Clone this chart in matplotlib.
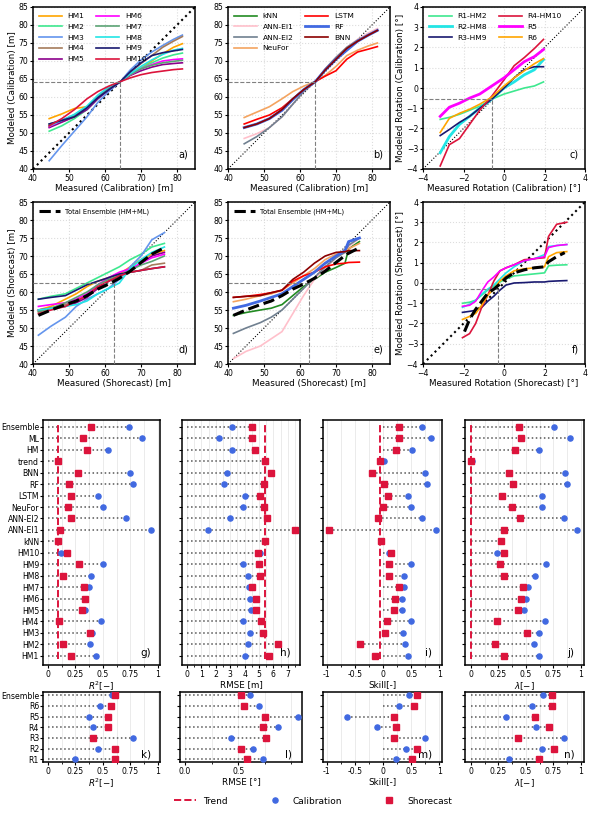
import numpy as np
import matplotlib
matplotlib.use('Agg')
import matplotlib.pyplot as plt
from matplotlib.lines import Line2D
from matplotlib.ticker import AutoMinorLocator

W, H = 591, 813

# ---- calibration / shorecast curves (sorted modeled vs sorted measured) ----
x_cal = [44.5, 48, 51.5, 55, 58, 61, 64.3, 67, 70, 73, 76, 79, 81.5]
hm_cal = {
    'HM1': [54, 55.3, 56.8, 57.3, 60, 62.5, 64.3, 66, 68, 70, 72, 73.8, 74.8],
    'HM2': [50.5, 52, 54, 56.5, 59.5, 62, 64.3, 66.3, 68, 69.5, 70.8, 71.7, 72.2],
    'HM3': [42.3, 46.5, 50.5, 54.5, 58.5, 61.5, 64.3, 67.5, 70.3, 72.5, 74.3, 76, 77.2],
    'HM4': [52, 53.2, 54.5, 57, 60, 62.5, 64.3, 66.8, 69.3, 71.5, 73.8, 75.5, 76.8],
    'HM5': [51.5, 53, 54.5, 56.5, 59.5, 62, 64.3, 66, 67.3, 68.3, 69, 69.3, 69.5],
    'HM6': [51.8, 53.5, 55, 57, 60, 62.5, 64.3, 66.2, 67.8, 69, 70, 70.4, 70.6],
    'HM7': [52.5, 53.5, 54.8, 57, 60, 62.3, 64.3, 66.2, 67.8, 68.8, 69.5, 69.9, 70.2],
    'HM8': [52, 53.5, 55.2, 57.5, 60.5, 62.8, 64.3, 66.5, 68.5, 70.3, 71.8, 73, 73.5],
    'HM9': [52.5, 53.5, 54.5, 57, 59.8, 62, 64.3, 67, 69.5, 71.5, 72.3, 72.8, 73.2],
    'HM10': [52, 54, 56.5, 59.5, 61.5, 63, 64.3, 65.3, 66.2, 66.8, 67.2, 67.6, 67.8],
}
ml_cal = {
    'kNN': [51.5, 52.5, 54, 56.5, 59.5, 62, 64.3, 67.5, 70.8, 73.5, 75.5, 77.2, 78.5],
    'ANN-EI1': [48.5, 49.8, 51.5, 54.5, 58, 61.5, 64.3, 67.8, 71, 73.8, 76, 77.8, 79],
    'ANN-EI2': [47, 49, 51.5, 54.5, 58, 61.5, 64.3, 67.8, 71, 73.8, 75.8, 77.3, 78.5],
    'NeuFor': [54.3, 55.8, 57.3, 59.5, 61.5, 63, 64.3, 66, 68.5, 71.5, 73, 74.2, 75],
    'LSTM': [52.5, 53.8, 55, 57, 59.5, 62, 64.3, 65.8, 67.3, 70.5, 72.5, 73.3, 74],
    'RF': [51.5, 52.5, 54, 56.3, 59.3, 62, 64.3, 67.5, 70.5, 73, 75.5, 77.2, 78.5],
    'BNN': [51.5, 52.5, 54, 56.5, 59.5, 62, 64.3, 67.5, 70.5, 73.5, 75.5, 77.2, 78.5],
}
x_rot_cal = [-3.15, -2.7, -2.2, -1.7, -1.2, -0.6, 0, 0.5, 1.0, 1.5, 1.95]
rot_cal = {
    'R1-HM2': [-1.55, -1.45, -1.3, -1.1, -0.9, -0.55, -0.3, -0.15, 0, 0.1, 0.3],
    'R2-HM8': [-3.2, -2.4, -1.8, -1.4, -1.0, -0.55, 0, 0.3, 0.65, 0.9, 1.4],
    'R3-HM9': [-2.35, -2.05, -1.7, -1.4, -1.0, -0.55, 0.0, 0.5, 0.9, 1.05, 1.05],
    'R4-HM10': [-3.85, -2.8, -2.5, -1.8, -1.1, -0.4, 0.4, 1.1, 1.5, 1.95, 2.4],
    'R5': [-1.4, -0.95, -0.75, -0.5, -0.3, 0.1, 0.5, 0.9, 1.3, 1.55, 1.9],
    'R6': [-2.2, -1.5, -1.25, -1.05, -0.8, -0.45, 0.1, 0.5, 0.85, 1.2, 1.45],
}

x_sho = [41.5, 45, 49, 52, 55, 58, 61, 64, 67, 70, 73, 76.5]
ens_sho = [53.5, 55, 56.5, 57.5, 59, 60.8, 62.2, 63.8, 65.8, 68.2, 70.5, 72.3]
hm_sho = {
    'HM1': [55, 56, 58, 59.5, 61.5, 63, 64, 65, 67, 69, 70.5, 71.5],
    'HM2': [58, 58.8, 59.5, 61, 62.5, 64, 65.5, 67, 69, 70.5, 72.5, 73.5],
    'HM3': [48, 50.5, 53, 56, 58, 59.5, 61, 63.5, 67, 70, 74.5, 76.5],
    'HM4': [54.5, 55.5, 56.5, 57.5, 59, 61, 63, 64.5, 65.5, 66, 67.5, 68],
    'HM5': [55, 55.5, 56, 57, 58.5, 61, 63, 64.5, 66, 68, 70, 71],
    'HM6': [56, 56.5, 57, 58, 59.5, 62, 64, 65.5, 66.5, 68, 69.5, 70.5],
    'HM7': [54.5, 55.5, 57, 58.5, 60, 62, 63.5, 64.5, 66, 67.5, 68.5, 70],
    'HM8': [55, 55.5, 56, 56.5, 57.5, 59.5, 61, 62.5, 66.5, 69, 71, 72.5],
    'HM9': [58, 58.5, 59, 60.5, 62, 63, 64, 65, 65.5, 66, 66.5, 67],
    'HM10': [54, 55, 56, 57.5, 59, 61.5, 63, 64.5, 65.5, 66, 66.5, 67],
}
x_sho_ml = [41.5, 45, 49, 52, 55, 58, 61, 64, 67, 70, 72.5, 73.5, 76.5]
ml_sho = {
    'kNN': [53.5, 54.3, 55, 55.5, 56.5, 59, 61.5, 63.5, 65.5, 66.8, 68, 72, 74],
    'ANN-EI1': [41.5, 43.5, 45, 47, 49, 54, 59, 63.5, 66.5, 69.5, 71.5, 72.5, 75],
    'ANN-EI2': [48.5, 50, 51.5, 53, 55, 58, 61, 64, 67, 69.5, 71, 73, 75],
    'NeuFor': [57.3, 58, 59, 59.5, 60.5, 62.5, 64.5, 66.5, 69, 70.5, 71.5, 72, 73.5],
    'LSTM': [58.5, 58.8, 59.3, 59.8, 60.5, 63, 64.5, 65.5, 67, 67.8, 68, 68.2, 68.3],
    'RF': [55.5, 56.3, 57.5, 58.5, 59.5, 61.5, 63.5, 65.5, 68, 70, 71.5, 74, 75],
    'BNN': [58.5, 58.8, 59, 59.8, 60.5, 63.5, 65.5, 68, 70, 71, 71.2, 71.5, 71.5],
}
x_rot_sho = [-2.05, -1.7, -1.4, -1.1, -0.8, -0.5, -0.2, 0.1, 0.5, 1.0, 1.5, 2.0, 2.2, 2.6, 3.1]
rot_sho = {
    'R1-HM2': [-1.0, -0.95, -0.85, -0.6, -0.35, -0.15, 0.05, 0.2, 0.35, 0.4, 0.45, 0.5, 0.85, 0.88, 0.9],
    'R2-HM8': [-1.2, -1.05, -0.85, -0.55, -0.3, -0.1, 0.2, 0.5, 0.8, 1.1, 1.2, 1.4, 1.8, 1.85, 1.9],
    'R3-HM9': [-1.45, -1.4, -1.35, -1.2, -0.9, -0.65, -0.35, -0.1, 0, 0.02, 0.05, 0.05, 0.08, 0.1, 0.12],
    'R4-HM10': [-2.7, -2.5, -2.0, -1.2, -0.6, 0.1, 0.6, 0.75, 0.9, 1.15, 1.2, 1.25, 2.3, 2.9, 3.0],
    'R5': [-1.15, -1.1, -0.9, -0.4, 0.05, 0.3, 0.6, 0.75, 0.9, 1.1, 1.2, 1.3, 1.75, 1.85, 1.9],
    'R6': [-1.8, -1.65, -1.5, -1.1, -0.6, -0.3, 0.1, 0.35, 0.6, 0.7, 0.75, 0.8, 1.3, 1.5, 1.55],
}
x_rot_ens = [-1.95, -1.7, -1.4, -1.1, -0.8, -0.5, -0.2, 0.1, 0.5, 1.0, 1.5, 2.0, 2.2, 2.6, 3.0]
rot_ens = [-2.4, -1.8, -1.3, -0.9, -0.5, -0.3, -0.05, 0.25, 0.5, 0.65, 0.75, 0.8, 1.05, 1.3, 1.5]

hm_colors = ['orange', '#3ee88f', 'cornflowerblue', '#a67b5b', 'darkmagenta',
             'magenta', '#5ba374', '#22e5e5', '#191970', 'crimson']
ml_colors = ['forestgreen', 'pink', 'slategrey', 'sandybrown', 'red', 'royalblue', 'darkred']
ml_lw = [1.2, 1.2, 1.2, 1.2, 1.2, 2.0, 1.2]
rot_colors = ['#3ee88f', '#22e5e5', '#191970', 'crimson', 'magenta', 'orange']
rot_lw = [1.2, 2.0, 1.2, 1.2, 2.0, 1.2]

# ---- metrics ----
models = ['HM1', 'HM2', 'HM3', 'HM4', 'HM5', 'HM6', 'HM7', 'HM8', 'HM9', 'HM10',
          'kNN', 'ANN-EI1', 'ANN-EI2', 'NeuFor', 'LSTM', 'RF', 'BNN',
          'trend', 'HM', 'ML', 'Ensemble']
r2_cal = [0.44, 0.385, 0.405, 0.48, 0.335, 0.34, 0.37, 0.39, 0.50, 0.12,
          0.09, 0.94, 0.715, 0.50, 0.46, 0.775, 0.745, 0.09, 0.55, 0.86, 0.74]
r2_sho = [0.21, 0.14, 0.385, 0.10, 0.31, 0.34, 0.33, 0.14, 0.28, 0.17,
          0.095, 0.11, 0.21, 0.18, 0.21, 0.19, 0.27, 0.09, 0.355, 0.32, 0.39]
rmse_cal = [4.06, 4.25, 4.41, 3.9, 4.45, 4.41, 4.34, 4.25, 3.87, 5.1,
            5.4, 1.44, 3.02, 3.87, 4.06, 2.6, 2.78, 5.4, 3.13, 2.2, 3.09]
rmse_sho = [5.73, 6.31, 5.29, 5.15, 4.8, 4.76, 4.52, 5.06, 5.03, 4.92,
            5.45, 7.47, 5.57, 5.38, 5.1, 5.34, 5.8, 5.45, 4.71, 4.52, 4.52]
skill_cal = [0.44, 0.39, 0.35, 0.5, 0.33, 0.34, 0.37, 0.38, 0.5, 0.1,
             -0.03, 0.94, 0.70, 0.5, 0.44, 0.78, 0.75, 0.02, 0.52, 0.85, 0.69]
skill_sho = [-0.14, -0.41, 0.03, 0.07, 0.20, 0.22, 0.28, 0.10, 0.11, 0.15,
             -0.03, -0.96, -0.09, -0.01, 0.09, 0.01, -0.19, -0.05, 0.23, 0.29, 0.29]
lam_cal = [0.62, 0.57, 0.62, 0.67, 0.48, 0.50, 0.52, 0.58, 0.68, 0.235,
           0.27, 0.97, 0.85, 0.65, 0.65, 0.876, 0.855, 0.01, 0.62, 0.90, 0.76]
lam_sho = [0.30, 0.22, 0.51, 0.235, 0.43, 0.46, 0.47, 0.30, 0.26, 0.305,
           0.27, 0.30, 0.45, 0.37, 0.28, 0.38, 0.35, 0.0, 0.40, 0.46, 0.44]
trend_vals = [0.09, 5.45, -0.05, 0.0]

rot_models = ['R1', 'R2', 'R3', 'R4', 'R5', 'R6', 'Ensemble']
rot_r2_cal = [0.246, 0.453, 0.778, 0.414, 0.376, 0.476, 0.58]
rot_r2_sho = [0.615, 0.615, 0.414, 0.547, 0.547, 0.577, 0.615]
rot_rmse_cal = [0.735, 0.635, 0.43, 0.87, 1.06, 0.70, 0.61]
rot_rmse_sho = [0.58, 0.526, 0.76, 0.73, 0.75, 0.555, 0.526]
rot_skill_cal = [0.23, 0.41, 0.75, -0.10, -0.64, 0.28, 0.46]
rot_skill_sho = [0.51, 0.60, 0.19, 0.23, 0.20, 0.56, 0.61]
rot_lam_cal = [0.35, 0.65, 0.85, 0.59, 0.32, 0.56, 0.66]
rot_lam_sho = [0.62, 0.76, 0.43, 0.71, 0.58, 0.74, 0.74]

BLUE = '#4169e1'
RED = '#dc143c'
LABEL_FS = 6.3
TICK_FS = 5.6

plt.rcParams['font.size'] = 6
plt.rcParams['axes.linewidth'] = 1.1


def rect(l, r, t, b):
    return [l / W, 1 - b / H, (r - l) / W, (b - t) / H]


fig = plt.figure(figsize=(W / 100, H / 100), dpi=100)


def scatter_panel(ax, xlim, ylim, xt, yt, xlabel, ylabel, tag, mx, my, diag_lw=1.2):
    ax.set_xlim(xlim)
    ax.set_ylim(ylim)
    ax.set_xticks(xt)
    ax.set_yticks(yt)
    ax.grid(True, color='#dddddd', linestyle=':', linewidth=0.8)
    ax.set_axisbelow(True)
    ax.plot(xlim, ylim, ':', color='k', lw=diag_lw, zorder=1)
    ax.plot([mx, mx], [ylim[0], my], '--', color='grey', lw=0.8, zorder=5)
    ax.plot([xlim[0], mx], [my, my], '--', color='grey', lw=0.8, zorder=5)
    ax.set_xlabel(xlabel, fontsize=LABEL_FS, labelpad=1)
    if ylabel:
        ax.set_ylabel(ylabel, fontsize=LABEL_FS, labelpad=1)
    ax.tick_params(labelsize=TICK_FS, length=2, pad=1.5)
    ax.text(0.96, 0.06, tag, transform=ax.transAxes, ha='right', va='bottom', fontsize=7)


dist_t = [40, 50, 60, 70, 80]
dist_y = list(range(40, 86, 5))
rot_t = [-4, -2, 0, 2, 4]
rot_y = list(range(-4, 5))
leg_kw = dict(loc='upper left', ncol=2, fontsize=5.4, frameon=False, handlelength=3.0,
              labelspacing=0.6, columnspacing=1.6, borderaxespad=0.4)

# a)
ax = fig.add_axes(rect(33, 195, 7, 169))
for (name, vals), c in zip(hm_cal.items(), hm_colors):
    ax.plot(x_cal, vals, color=c, lw=1.2, label=name)
scatter_panel(ax, (40, 85), (40, 85), dist_t, dist_y, 'Measured (Calibration) [m]',
              'Modeled (Calibration) [m]', 'a)', 64.3, 64.3, 1.5)
ax.legend(**leg_kw)

# b)
ax = fig.add_axes(rect(228, 390, 7, 169))
for (name, vals), c, lw in zip(ml_cal.items(), ml_colors, ml_lw):
    ax.plot(x_cal, vals, color=c, lw=lw, label=name)
scatter_panel(ax, (40, 85), (40, 85), dist_t, dist_y, 'Measured (Calibration) [m]',
              None, 'b)', 64.3, 64.3, 0.8)
ax.legend(**leg_kw)

# c)
ax = fig.add_axes(rect(423, 585, 7, 169))
for (name, vals), c, lw in zip(rot_cal.items(), rot_colors, rot_lw):
    ax.plot(x_rot_cal, vals, color=c, lw=lw, label=name)
scatter_panel(ax, (-4, 4), (-4, 4), rot_t, rot_y, 'Measured Rotation (Calibration) [°]',
              'Modeled Rotation (Calibration) [°]', 'c)', -0.6, -0.55, 0.8)
ax.legend(**leg_kw)

# d)
ax = fig.add_axes(rect(33, 195, 202, 364))
for (name, vals), c in zip(hm_sho.items(), hm_colors):
    ax.plot(x_sho, vals, color=c, lw=1.2)
ax.plot(x_sho, ens_sho, '--', color='k', lw=2.2, label='Total Ensemble (HM+ML)', zorder=6)
scatter_panel(ax, (40, 85), (40, 85), dist_t, dist_y, 'Measured (Shorecast) [m]',
              'Modeled (Shorecast) [m]', 'd)', 62.6, 62.6, 0.8)
ax.legend(loc='upper left', fontsize=4.9, frameon=False, handlelength=3.0, borderaxespad=0.5)

# e)
ax = fig.add_axes(rect(228, 390, 202, 364))
for (name, vals), c, lw in zip(ml_sho.items(), ml_colors, ml_lw):
    ax.plot(x_sho_ml, vals, color=c, lw=lw)
ax.plot(x_sho, ens_sho, '--', color='k', lw=2.2, label='Total Ensemble (HM+ML)', zorder=6)
scatter_panel(ax, (40, 85), (40, 85), dist_t, dist_y, 'Measured (Shorecast) [m]',
              None, 'e)', 62.6, 62.6, 0.8)
ax.legend(loc='upper left', fontsize=4.9, frameon=False, handlelength=3.0, borderaxespad=0.5)

# f)
ax = fig.add_axes(rect(423, 585, 202, 364))
for (name, vals), c in zip(rot_sho.items(), rot_colors):
    ax.plot(x_rot_sho, vals, color=c, lw=1.2)
ax.plot(x_rot_ens, rot_ens, '--', color='k', lw=2.2, zorder=6)
scatter_panel(ax, (-4, 4), (-4, 4), rot_t, rot_y, 'Measured Rotation (Shorecast) [°]',
              'Modeled Rotation (Shorecast) [°]', 'f)', -0.3, -0.3, 1.5)


def metric_panel(ax, names, cal, sho, xlim, xt, xtl, xlabel, tag, ylim, trend=None, show_names=False):
    y = np.arange(len(names))
    for yi, c, s in zip(y, cal, sho):
        ax.plot([min(0, c, s), max(c, s)], [yi, yi], ':', color='#555555', lw=1.1, zorder=1)
    if trend is not None:
        ax.plot([trend, trend], [-0.3, len(names) - 0.7], '--', color=RED, lw=1.4, zorder=2)
    ax.plot(cal, y, 'o', color=BLUE, ms=3.7, zorder=3, ls='none')
    ax.plot(sho, y, 's', color=RED, ms=4.2, zorder=4, ls='none')
    ax.set_xlim(xlim)
    ax.set_ylim(ylim)
    ax.set_xticks(xt)
    ax.set_xticklabels(xtl)
    ax.xaxis.set_minor_locator(AutoMinorLocator(2))
    ax.set_yticks(y)
    if show_names:
        ax.set_yticklabels(names, fontsize=5.0)
    else:
        ax.set_yticklabels([])
    ax.grid(True, which='both', axis='x', color='#e8e8e8', lw=0.6)
    ax.set_axisbelow(True)
    ax.set_xlabel(xlabel, fontsize=LABEL_FS, labelpad=1)
    ax.tick_params(labelsize=TICK_FS, length=2, pad=1.5)
    ax.tick_params(axis='y', pad=0.8)
    ax.tick_params(which='minor', length=1.5)
    ax.text(0.92, 0.03, tag, transform=ax.transAxes, ha='right', va='bottom', fontsize=7.5)


t01 = [0, 0.25, 0.5, 0.75, 1]
t01l = ['0', '0.25', '0.5', '0.75', '1']
tsk = [-1, -0.5, 0, 0.5, 1]
tskl = ['-1', '-0.5', '0', '0.5', '1']
yl_big = (-0.8, 20.6)
yl_small = (-0.25, 6.3)

ax = fig.add_axes(rect(43, 160, 420, 665))
metric_panel(ax, models, r2_cal, r2_sho, (-0.044, 1.02), t01, t01l, r'$R^2[-]$', 'g)',
             yl_big, trend_vals[0], True)
ax = fig.add_axes(rect(182, 300, 420, 665))
metric_panel(ax, models, rmse_cal, rmse_sho, (-0.35, 7.85), list(range(8)),
             [str(i) for i in range(8)], 'RMSE [m]', 'h)', yl_big, trend_vals[1])
ax = fig.add_axes(rect(323, 442, 420, 665))
metric_panel(ax, models, skill_cal, skill_sho, (-1.07, 1.05), tsk, tskl, 'Skill[-]', 'i)',
             yl_big, trend_vals[2])
ax = fig.add_axes(rect(465, 584, 420, 665))
metric_panel(ax, models, lam_cal, lam_sho, (-0.055, 1.03), t01, t01l, r'$\lambda[-]$', 'j)',
             yl_big, trend_vals[3])

ax = fig.add_axes(rect(43, 160, 692, 762))
metric_panel(ax, rot_models, rot_r2_cal, rot_r2_sho, (-0.044, 1.02), t01, t01l, r'$R^2[-]$',
             'k)', yl_small, None, True)
ax = fig.add_axes(rect(180, 302, 692, 762))
metric_panel(ax, rot_models, rot_rmse_cal, rot_rmse_sho, (-0.047, 1.10), [0.0, 0.5],
             ['0.0', '0.5'], 'RMSE [°]', 'l)', yl_small)
ax = fig.add_axes(rect(323, 442, 692, 762))
metric_panel(ax, rot_models, rot_skill_cal, rot_skill_sho, (-1.07, 1.05), tsk, tskl,
             'Skill[-]', 'm)', yl_small)
ax = fig.add_axes(rect(465, 584, 692, 762))
metric_panel(ax, rot_models, rot_lam_cal, rot_lam_sho, (-0.055, 1.03), t01, t01l,
             r'$\lambda[-]$', 'n)', yl_small)

handles = [Line2D([], [], color=RED, ls='--', lw=1.4),
           Line2D([], [], color=BLUE, marker='o', ls='none', ms=3.7),
           Line2D([], [], color=RED, marker='s', ls='none', ms=4.2)]
fig.legend(handles, ['Trend', 'Calibration', 'Shorecast'], loc='center',
           bbox_to_anchor=(0.53, 1 - 801 / H), ncol=3, frameon=False, fontsize=6.5,
           handlelength=2.4, columnspacing=4.0)

fig.savefig('out.png', dpi=100)
